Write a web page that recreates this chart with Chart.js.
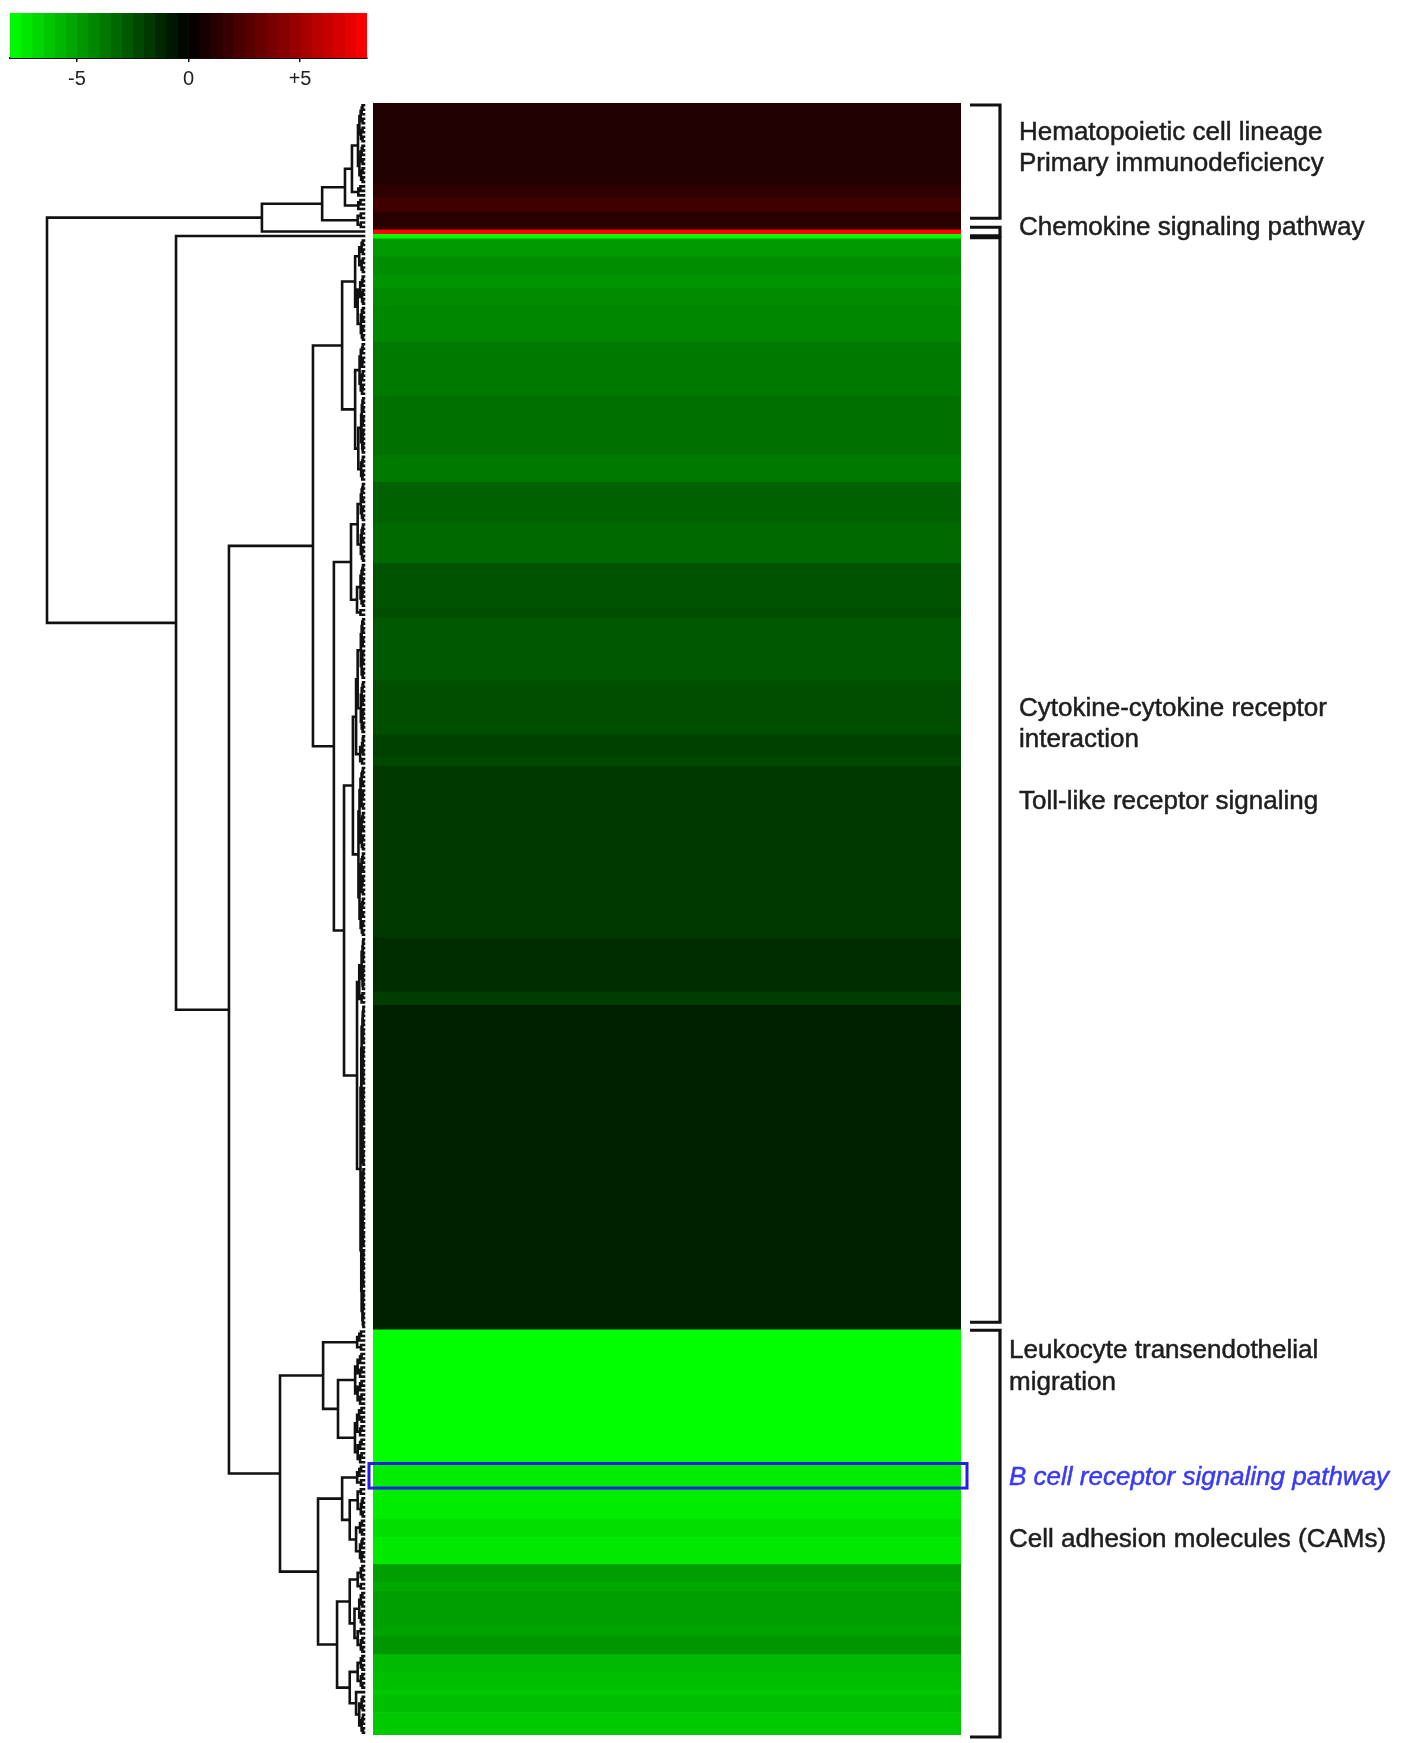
<!DOCTYPE html>
<html>
<head>
<meta charset="utf-8">
<title>Pathway expression heatmap</title>
<script src="https://cdn.jsdelivr.net/npm/chart.js@4.4.1/dist/chart.umd.min.js"></script>
<style>
  html, body { margin: 0; padding: 0; background: #fff; }
  #wrap { position: relative; width: 1413px; height: 1743px; overflow: hidden; background: #fff; filter: blur(0.5px); }
  #wrap canvas { position: absolute; left: 0; top: 0; }
</style>
</head>
<body>
<div id="wrap">
  <canvas id="heat" width="1413" height="1743"></canvas>
  <canvas id="dendro" width="380" height="1743"></canvas>
  <canvas id="key" width="400" height="100"></canvas>
</div>
<script>
// ---- data -----------------------------------------------------------------
// log2 fold change of each block of co-regulated genes, top to bottom
const bandValues = [
   1.0,  1.45,  2.0,  1.3,  8.0, -8.0,
  -4.8, -4.45, -4.65, -4.35, -4.25, -3.8, -3.5, -3.8, -3.05, -3.3,
  -2.65, -2.4, -2.75, -2.45, -2.05, -2.25, -1.8, -1.4, -1.9, -1.05,
  -8.0, -8.0,  -8.0, -7.4, -7.5, -7.4, -7.0, -7.3,
  -5.0, -5.3,  -5.0, -5.15, -4.7, -5.85, -6.0, -6.3, -6.0, -6.3
];
// number of genes in each block
const bandGenes = [
  18, 3, 3, 4, 1, 1,
  4, 4, 3, 4, 8, 12, 13, 6, 9, 9,
  10, 2, 14, 12, 5, 2, 38, 12, 3, 72,
  5, 12, 13, 5, 2, 5, 4, 6,
  4, 2, 8, 2, 4, 4, 4, 1, 4, 5
];

// hierarchical clustering of the blocks: [left, right, merge height]; numbers are block indices
const dendrogram = [
  [[[[0, 1, 0.38], 2, 0.6], 3, 1.32], 4, 3.22],
  [5,
    [
      [
        [[[6, 7, 0.15], [[8, 9, 0.12], 10, 0.2], 0.28], [11, [12, 13, 0.18], 0.28], 0.69],
        [[[14, 15, 0.2], [16, 17, 0.22], 0.41],
         [[[[18, 19, 0.2], [20, 21, 0.12], 0.25], 22, 0.35], [[23, 24, 0.15], 25, 0.22], 0.63],
         0.95],
        1.61],
      [
        [26, [27, 28, 0.82], 1.29],
        [[29, [[30, 31, 0.2], [32, 33, 0.25], 0.45], 0.69],
         [[[34, 35, 0.2], [36, [37, 38, 0.2], 0.3], 0.45], [[39, 40, 0.2], [41, [42, 43, 0.15], 0.25], 0.45], 0.85],
         1.45],
        2.65],
      4.26],
    5.93],
  10.0
];
const dendroMaxHeight = 10;

// pathway brackets: first and last block of each group
const pathwayGroups = [[0, 3], [4, 4], [5, 25], [26, 43]];
const highlightBand = 29;

// colour key
const keyMin = -8, keyMax = 8, keyStep = 0.5;
const keyTicks = [-5, 0, 5];
const keyTickLabels = ['-5', '0', '+5'];

// ---- layout & style ---------------------------------------------------------
const W = 1413, H = 1743;
const plotTop = 103, plotBottom = 1735;
const heatLeft = 373, heatRight = 961;
const dendroLeft = 47, dendroRight = 364;
const TEXT_FONT = '26px "Liberation Sans", Arial, sans-serif';
const ITALIC_FONT = 'italic 26px "Liberation Sans", Arial, sans-serif';

// text next to the brackets; row is in gene units on the heatmap's y scale
const pathwayLabels = [
  { text: 'Hematopoietic cell lineage', row: 6.2, group: 0 },
  { text: 'Primary immunodeficiency', row: 13.1, group: 0 },
  { text: 'Chemokine signaling pathway', row: 27.3, group: 1 },
  { text: 'Cytokine-cytokine receptor', row: 133.9, group: 2 },
  { text: 'interaction', row: 140.8, group: 2 },
  { text: 'Toll-like receptor signaling', row: 154.6, group: 2 },
  { text: 'Leukocyte transendothelial', row: 276.3, group: 3 },
  { text: 'migration', row: 283.4, group: 3 },
  { text: 'B cell receptor signaling pathway', row: 304.5, group: 3, highlight: true },
  { text: 'Cell adhesion molecules (CAMs)', row: 318.2, group: 3 }
];
const labelOffset = [58, 58, 58, 48];          // px right of the heatmap
const bracketInsets = [[2, 11], [-2, -2], [4, 7], [1, -2]]; // px trimmed at top / bottom

// ---- helpers ----------------------------------------------------------------
function colorFor(v) {
  const t = Math.max(0, Math.min(1, Math.abs(v) / 8));
  const c = Math.round(t * 255);
  return v >= 0 ? `rgb(${c},0,0)` : `rgb(0,${c},0)`;
}

const N = bandGenes.reduce((a, b) => a + b, 0);
const bandStart = [];
{ let acc = 0; bandGenes.forEach(g => { bandStart.push(acc); acc += g; }); }

// dendrogram segments as one broken polyline
const segs = [];
function addU(a, b, h) {
  segs.push({ x: a.h, y: a.y }, { x: h, y: a.y }, { x: h, y: b.y }, { x: b.h, y: b.y }, { x: null, y: null });
}
function blockTree(i, parentH) {
  const lo = bandStart[i], n = bandGenes[i];
  const top = Math.min(parentH * 0.5, 0.1 + 0.05 * Math.log2(Math.max(n, 2)));
  function rec(a, b) {
    if (b - a === 1) return { y: a + 0.5, h: 0 };
    const m = a + Math.ceil((b - a) / 2);
    const L = rec(a, m), R = rec(m, b);
    const h = n > 1 ? top * Math.log2(b - a) / Math.log2(n) : 0;
    addU(L, R, h);
    return { y: (L.y + R.y) / 2, h };
  }
  return rec(lo, lo + n);
}
function walk(node, parentH) {
  if (typeof node === 'number') return blockTree(node, parentH);
  const [l, r, h] = node;
  const L = walk(l, h), R = walk(r, h);
  addU(L, R, h);
  return { y: (L.y + R.y) / 2, h };
}
walk(dendrogram, dendroMaxHeight);

const quiet = { legend: { display: false }, tooltip: { enabled: false } };

// ---- dendrogram ------------------------------------------------------------
new Chart(document.getElementById('dendro'), {
  type: 'scatter',
  data: {
    datasets: [{
      data: segs,
      showLine: true,
      spanGaps: false,
      borderColor: '#111',
      borderWidth: 2.6,
      borderCapStyle: 'square',
      pointRadius: 0,
      pointHoverRadius: 0,
      tension: 0,
      clip: false
    }]
  },
  options: {
    responsive: false, animation: false, events: [],
    layout: { padding: { left: dendroLeft, right: 380 - dendroRight, top: plotTop, bottom: H - plotBottom } },
    scales: {
      x: { type: 'linear', min: 0, max: dendroMaxHeight, reverse: true, display: false },
      y: { type: 'linear', min: 0, max: N, reverse: true, display: false }
    },
    plugins: quiet
  }
});

// ---- heatmap, brackets and pathway names -----------------------------------
const pathwayPlugin = {
  id: 'pathways',
  afterDraw(chart) {
    const ctx = chart.ctx, ys = chart.scales.y, area = chart.chartArea;
    ctx.save();

    // highlighted gene block
    const hb0 = ys.getPixelForValue(bandStart[highlightBand]);
    const hb1 = ys.getPixelForValue(bandStart[highlightBand] + bandGenes[highlightBand]);
    ctx.strokeStyle = '#1f1fe6';
    ctx.lineWidth = 3;
    ctx.strokeRect(area.left - 4, hb0 - 1, area.right - area.left + 10, hb1 - hb0 + 2);

    // brackets
    ctx.strokeStyle = '#111';
    ctx.lineWidth = 3.2;
    ctx.lineJoin = 'miter';
    pathwayGroups.forEach(([a, b], k) => {
      const t = ys.getPixelForValue(bandStart[a]) + bracketInsets[k][0];
      const bt = ys.getPixelForValue(bandStart[b] + bandGenes[b]) - bracketInsets[k][1];
      const x0 = area.right + 9, x1 = area.right + 39;
      ctx.beginPath();
      ctx.moveTo(x0, t); ctx.lineTo(x1, t); ctx.lineTo(x1, bt); ctx.lineTo(x0, bt);
      ctx.stroke();
    });

    // pathway names
    ctx.textBaseline = 'middle';
    ctx.textAlign = 'left';
    ctx.lineWidth = 0.5;
    pathwayLabels.forEach(l => {
      ctx.font = l.highlight ? ITALIC_FONT : TEXT_FONT;
      const col = l.highlight ? '#3a3af5' : '#1e1e1e';
      ctx.fillStyle = col;
      ctx.strokeStyle = col;
      const x = area.right + labelOffset[l.group], y = ys.getPixelForValue(l.row) + 2;
      ctx.fillText(l.text, x, y);
      ctx.strokeText(l.text, x, y);
    });
    ctx.restore();
  }
};

new Chart(document.getElementById('heat'), {
  type: 'bar',
  data: {
    labels: ['expression'],
    datasets: bandValues.map((v, i) => ({
      data: [bandGenes[i]],
      backgroundColor: colorFor(v),
      borderWidth: 0,
      barPercentage: 1,
      categoryPercentage: 1
    }))
  },
  options: {
    responsive: false, animation: false, events: [],
    layout: { padding: { left: heatLeft, right: W - heatRight, top: plotTop, bottom: H - plotBottom } },
    scales: {
      x: { stacked: true, display: false },
      y: { stacked: true, min: 0, max: N, reverse: true, display: false }
    },
    plugins: quiet
  },
  plugins: [pathwayPlugin]
});

// ---- colour key --------------------------------------------------------------
const keyBins = [];
for (let v = keyMin; v < keyMax - 1e-9; v += keyStep) keyBins.push([v, v + keyStep]);

new Chart(document.getElementById('key'), {
  type: 'bar',
  data: {
    labels: ['key'],
    datasets: keyBins.map(([a, b]) => ({
      data: [[a, b]],
      base: keyMin,              // key starts at the left end, not at zero
      backgroundColor: colorFor((a + b) / 2),
      borderWidth: 0,
      grouped: false,
      barPercentage: 1,
      categoryPercentage: 1
    }))
  },
  options: {
    indexAxis: 'y',
    responsive: false, animation: false, events: [],
    layout: { padding: { left: 10, right: 33, top: 13, bottom: 7 } },
    scales: {
      x: {
        type: 'linear', min: keyMin, max: keyMax,
        afterBuildTicks: s => { s.ticks = keyTicks.map(v => ({ value: v })); },
        afterFit: s => { s.height = 35; },
        ticks: {
          autoSkip: false, maxRotation: 0, padding: 5,
          color: '#222',
          font: { family: '"Liberation Sans", Arial, sans-serif', size: 20 },
          callback: v => keyTickLabels[keyTicks.indexOf(v)]
        },
        grid: { display: true, drawOnChartArea: false, drawTicks: true, tickLength: 4, color: '#111', lineWidth: 1.5 },
        border: { display: true, color: '#111', width: 2 }
      },
      y: { type: 'category', display: false }
    },
    plugins: quiet
  }
});
</script>
</body>
</html>
